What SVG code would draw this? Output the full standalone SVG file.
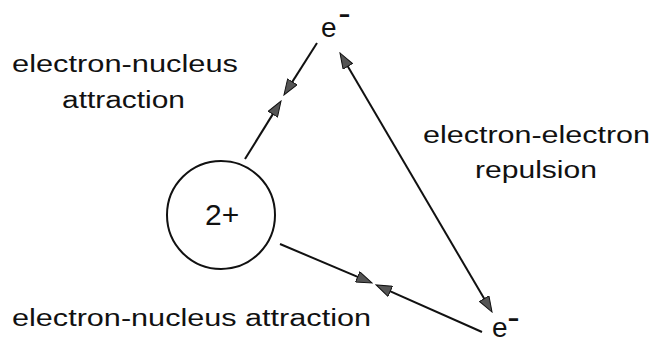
<svg xmlns="http://www.w3.org/2000/svg" width="654" height="343" viewBox="0 0 654 343">
  <style>
    text { font-family: "Liberation Sans", Arial, sans-serif; fill: #111; }
    .lbl { font-size: 23px; }
    .el { font-size: 28px; }
    .sup { font-size: 24px; font-weight: bold; }
    .conn { stroke: #111; stroke-width: 2; fill: none; stroke-linecap: butt; }
  </style>
  <defs>
    <marker id="ah" viewBox="0 0 17 12" markerWidth="17" markerHeight="12" refX="12" refY="6" orient="auto-start-reverse" markerUnits="userSpaceOnUse">
      <path d="M0.5,0.5 L16,6 L0.5,11.5 z" fill="#555" stroke="#111" stroke-width="1"/>
    </marker>
  </defs>
  <rect width="654" height="343" fill="#fff"/>

  <g id="nucleus">
    <circle cx="221" cy="215" r="54" fill="none" stroke="#111" stroke-width="2"/>
    <text x="205" y="225" font-size="30">2+</text>
  </g>

  <g id="electron-top">
    <text class="el" x="321" y="37">e</text>
    <text class="sup" x="338.5" y="22" textLength="12" lengthAdjust="spacingAndGlyphs">-</text>
  </g>

  <g id="electron-bottom">
    <text class="el" x="492" y="336.5">e</text>
    <text class="sup" x="507.5" y="326" textLength="12" lengthAdjust="spacingAndGlyphs">-</text>
  </g>

  <g id="label-attraction-top">
    <text class="lbl" x="12" y="72" textLength="226" lengthAdjust="spacingAndGlyphs">electron-nucleus</text>
    <text class="lbl" x="62" y="108" textLength="123" lengthAdjust="spacingAndGlyphs">attraction</text>
  </g>

  <g id="label-repulsion">
    <text class="lbl" x="423" y="143" textLength="227" lengthAdjust="spacingAndGlyphs">electron-electron</text>
    <text class="lbl" x="475" y="178" textLength="122" lengthAdjust="spacingAndGlyphs">repulsion</text>
  </g>

  <g id="label-attraction-bottom">
    <text class="lbl" x="12" y="326" textLength="359" lengthAdjust="spacingAndGlyphs">electron-nucleus attraction</text>
  </g>

  <g id="connectors">
    <line class="conn" x1="245" y1="159" x2="278.9" y2="104.4" marker-end="url(#ah)"/>
    <line class="conn" x1="317" y1="43" x2="286.1" y2="91.6" marker-end="url(#ah)"/>
    <line class="conn" x1="342.0" y1="56.4" x2="490.0" y2="308.6" marker-start="url(#ah)" marker-end="url(#ah)"/>
    <line class="conn" x1="280" y1="244" x2="368.3" y2="281.4" marker-end="url(#ah)"/>
    <line class="conn" x1="482" y1="332" x2="379.7" y2="286.6" marker-end="url(#ah)"/>
  </g>
</svg>
